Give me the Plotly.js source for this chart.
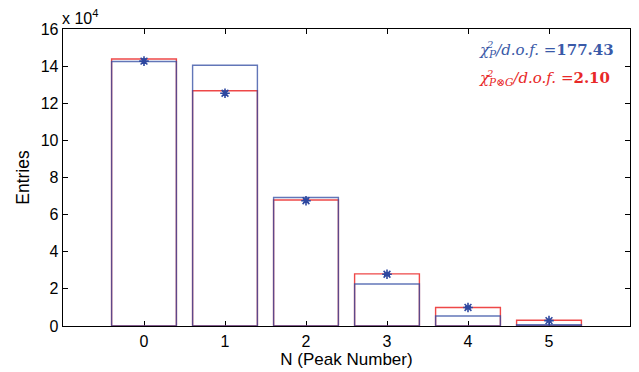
<!DOCTYPE html>
<html>
<head>
<meta charset="utf-8">
<script src="https://cdn.plot.ly/plotly-3.0.1.min.js"></script>
<style>html,body{margin:0;padding:0;background:#fff;}#chart{width:639px;height:372px;}</style>
</head>
<body>
<div id="chart"></div>
<script>
// values in units of 10^4 entries
var peakN = [0, 1, 2, 3, 4, 5];
var poissonFit = [14.25, 14.05, 6.92, 2.26, 0.54, 0.07];
var poissonGaussFit = [14.38, 12.67, 6.79, 2.81, 1.00, 0.31];
var dataEntries = [14.27, 12.54, 6.75, 2.79, 1.00, 0.29];
var dataErrors = [0.12, 0.12, 0.09, 0.06, 0.04, 0.02];
var xTickVals = [0, 1, 2, 3, 4, 5];
var yTickVals = [0, 2, 4, 6, 8, 10, 12, 14, 16];

var blue = 'rgb(46,72,160)';
var font = '"Liberation Sans", Arial, Helvetica, sans-serif';
var serif = '"DejaVu Serif", "Liberation Serif", serif';
var txtBlue = 'rgb(58,90,168)';
var txtRed = 'rgb(232,40,40)';

var traces = [
  {type: 'bar', x: peakN, y: poissonGaussFit, width: 0.8,
   marker: {color: 'rgba(0,0,0,0)', line: {color: 'rgba(235,40,40,0.85)', width: 1.4}},
   hoverinfo: 'skip', showlegend: false},
  {type: 'bar', x: peakN, y: poissonFit, width: 0.8,
   marker: {color: 'rgba(0,0,0,0)', line: {color: 'rgba(46,72,160,0.75)', width: 1.4}},
   hoverinfo: 'skip', showlegend: false},
  {type: 'scatter', mode: 'markers', x: peakN, y: dataEntries,
   marker: {symbol: 'asterisk-open', size: 8, color: blue, line: {color: blue, width: 1.6}},
   error_y: {type: 'data', array: dataErrors, visible: true, color: blue, thickness: 1.2, width: 3},
   showlegend: false}
];

var layout = {
  width: 639, height: 372,
  margin: {l: 63, r: 9, t: 29, b: 46},
  paper_bgcolor: '#fff', plot_bgcolor: '#fff',
  barmode: 'overlay',
  font: {family: font, size: 16, color: '#000'},
  xaxis: {
    range: [-1, 6], tickvals: xTickVals, ticktext: xTickVals.map(String),
    ticks: 'inside', ticklen: 5, tickcolor: '#000', tickwidth: 1,
    showline: true, linecolor: '#000', linewidth: 1.3, mirror: 'ticks',
    showgrid: false, zeroline: false, layer: 'below traces',
    title: {text: 'N (Peak Number)', font: {family: font, size: 17}, standoff: 2},
    tickfont: {family: font, size: 16}
  },
  yaxis: {
    range: [0, 16], tickvals: yTickVals, ticktext: yTickVals.map(String),
    ticks: 'inside', ticklen: 5, tickcolor: '#000', tickwidth: 1,
    showline: true, linecolor: '#000', linewidth: 1.3, mirror: 'ticks',
    showgrid: false, zeroline: false, layer: 'below traces',
    title: {text: 'Entries', font: {family: font, size: 17.5}, standoff: 6},
    tickfont: {family: font, size: 16}
  },
  annotations: [
    {xref: 'paper', yref: 'paper', x: 0, y: 1, xanchor: 'left', yanchor: 'bottom', yshift: 0, xshift: -3,
     text: 'x 10<sup>4</sup>', showarrow: false, font: {family: font, size: 16, color: '#000'}},
    {xref: 'paper', yref: 'paper', x: 0.730, y: 0.929, xanchor: 'left', yanchor: 'middle',
     text: '<i>χ</i><sub><i>P</i></sub><i>/d.o.f.</i> =<b>177.43</b>', showarrow: false,
     font: {family: serif, size: 15, color: txtBlue}},
    {xref: 'paper', yref: 'paper', x: 0.752, y: 0.947, xanchor: 'center', yanchor: 'middle',
     text: '<i>2</i>', showarrow: false,
     font: {family: serif, size: 10, color: txtBlue}},
    {xref: 'paper', yref: 'paper', x: 0.731, y: 0.832, xanchor: 'left', yanchor: 'middle',
     text: '<i>χ</i><sub><i>P⊗G</i></sub><i>/d.o.f.</i> =<b>2.10</b>', showarrow: false,
     font: {family: serif, size: 15, color: txtRed}},
    {xref: 'paper', yref: 'paper', x: 0.753, y: 0.850, xanchor: 'center', yanchor: 'middle',
     text: '<i>2</i>', showarrow: false,
     font: {family: serif, size: 10, color: txtRed}}
  ]
};

Plotly.newPlot('chart', traces, layout, {displayModeBar: false, staticPlot: true});
</script>
</body>
</html>
